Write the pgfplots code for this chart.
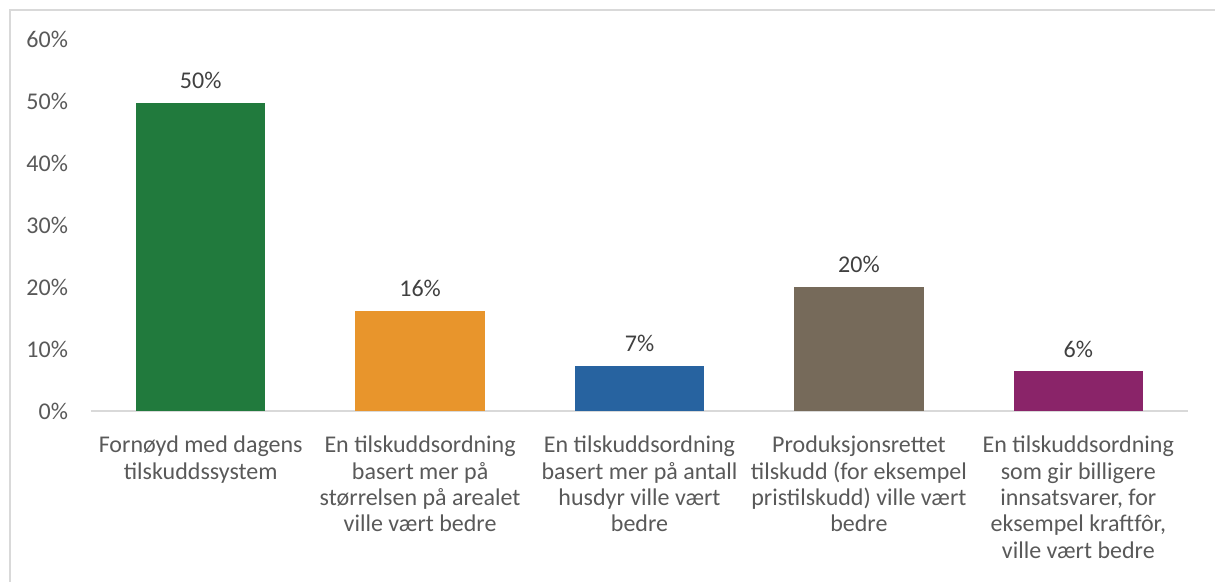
\documentclass[border=0pt]{standalone}
\usepackage{pgfplots}
\pgfplotsset{compat=1.18}
\usepackage{fontspec}
\setmainfont{Carlito}
\definecolor{cgreen}{HTML}{217A3D}
\definecolor{corange}{HTML}{E8952C}
\definecolor{cblue}{HTML}{2763A0}
\definecolor{cbrown}{HTML}{766A5A}
\definecolor{cpurple}{HTML}{8A2469}
\definecolor{ticktext}{HTML}{595959}
\definecolor{valtext}{HTML}{404040}
\definecolor{framegray}{HTML}{D9D9D9}
\begin{document}
\begin{tikzpicture}[x=1pt,y=1pt]
% page = 1215x582 px at 0.5pt per px, axis box lower left at px (91,411)
\useasboundingbox (-45.5,-85.5) rectangle (562,205.5);
\draw[framegray, line width=1pt] (-40.5,-100) -- (-40.5,200.5) -- (600,200.5);
\begin{axis}[
    at={(0,0)}, anchor=south west,
    scale only axis,
    width=548.5pt, height=186pt,
    ybar, bar width=0.59, bar shift=0pt,
    xmin=-0.5, xmax=4.5,
    ymin=0, ymax=60,
    ytick={0,10,...,60},
    yticklabel={\pgfmathprintnumber{\tick}\%},
    /pgf/number format/assume math mode=true,
    xtick={0,1,2,3,4},
    xticklabels={
        {Fornøyd med dagens\\tilskuddssystem},
        {En tilskuddsordning\\basert mer på\\størrelsen på arealet\\ville vært bedre},
        {En tilskuddsordning\\basert mer på antall\\husdyr ville vært\\bedre},
        {Produksjonsrettet\\tilskudd (for eksempel\\pristilskudd) ville vært\\bedre},
        {En tilskuddsordning\\som gir billigere\\innsatsvarer, for\\eksempel kraftfôr,\\ville vært bedre}},
    xticklabel style={align=center, font=\fontsize{12}{13.2}\selectfont, text=ticktext, yshift=-9pt},
    yticklabel style={font=\fontsize{12}{13}\selectfont, text=ticktext, xshift=-8pt},
    major tick length=0pt,
    axis x line*=bottom,
    axis y line*=left,
    x axis line style={draw=framegray, line width=1pt, -},
    y axis line style={draw=none},
    nodes near coords={\pgfmathprintnumber[fixed,precision=0]{\pgfplotspointmeta}\%},
    every node near coord/.append style={font=\fontsize{12}{13}\selectfont, text=valtext, yshift=3.5pt},
    /pgf/number format/.cd, fixed,
]
\addplot[fill=cgreen, draw=none] coordinates {(0,49.7)};
\addplot[fill=corange, draw=none] coordinates {(1,16.1)};
\addplot[fill=cblue, draw=none] coordinates {(2,7.3)};
\addplot[fill=cbrown, draw=none] coordinates {(3,20.0)};
\addplot[fill=cpurple, draw=none] coordinates {(4,6.4)};
\end{axis}
\end{tikzpicture}
\end{document}
